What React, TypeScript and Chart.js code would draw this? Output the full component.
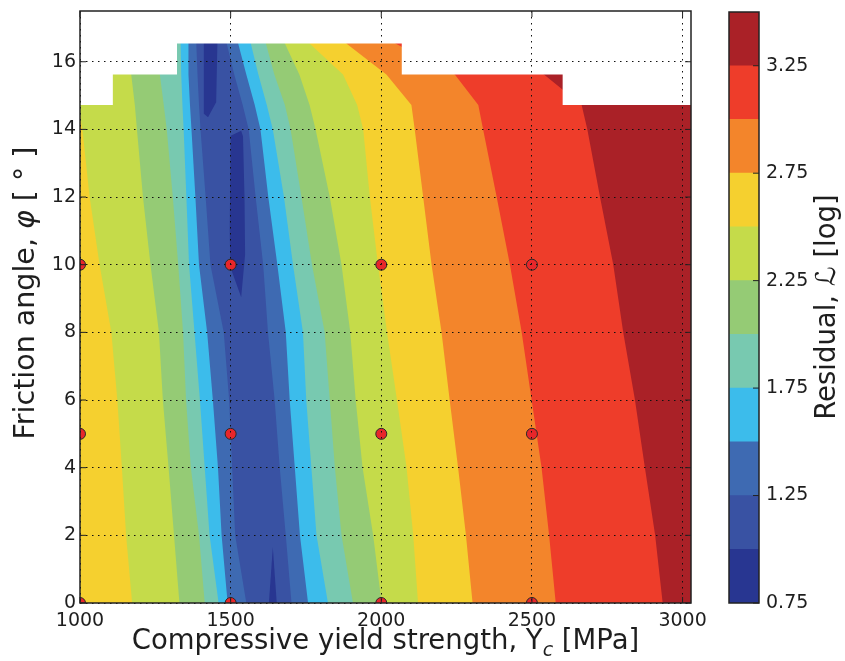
import React, { useEffect, useRef } from 'react';
import { Chart, registerables } from 'chart.js';

Chart.register(...registerables);

// ---- axes ----
const xTicks = [1000, 1500, 2000, 2500, 3000];
const yTicks = [0, 2, 4, 6, 8, 10, 12, 14, 16];
const xMin = 1000;
const xMax = 3028;
const yMin = 0;
const yMax = 17.5;

// ---- colour levels of the residual (colour bar) ----
const levels = [0.75, 1.0, 1.25, 1.5, 1.75, 2.0, 2.25, 2.5, 2.75, 3.0, 3.25, 3.5];
const levelColors = [
  '#283691', '#3952a3', '#3e6ab2', '#3cbceb', '#78c9b0', '#95cb75',
  '#c5db4a', '#f5d02f', '#f3852b', '#ee3d2a', '#aa2127',
];
const cbTicks = [0.75, 1.25, 1.75, 2.25, 2.75, 3.25];

// ---- contour boundaries ----
// friction angle rows at which each boundary is sampled
const rowY = [0, 2, 4, 6, 8, 10, 12, 14, 14.72, 15.62, 16.54, 17.5];

// left branch of each level (residual >= level for smaller Yc)
const left125 = [1552, 1515, 1505, 1495, 1477, 1433, 1417, 1400, 1395, 1390, 1386, 1386];
const left150 = [1490, 1470, 1458, 1441, 1422, 1395, 1383, 1370, 1365, 1360, 1360, 1360];
const left175 = [1460, 1430, 1414, 1398, 1380, 1362, 1353, 1344, 1340, 1336, 1334, 1334];
const left200 = [1414, 1395, 1368, 1352, 1342, 1326, 1308, 1288, 1278, 1265, 1260, 1260];
const left225 = [1330, 1312, 1294, 1275, 1262, 1234, 1209, 1189, 1182, 1170, 1160, 1160];
const left250 = [1173, 1153, 1139, 1124, 1104, 1065, 1032, 1008, 995, 990, 990, 990];

// right branch of each level (residual >= level for larger Yc)
const right125 = [1702, 1683, 1663, 1646, 1624, 1608, 1583, 1560, 1540, 1512, 1487, 1487];
const right150 = [1757, 1730, 1713, 1696, 1683, 1655, 1625, 1599, 1580, 1552, 1525, 1525];
const right175 = [1823, 1785, 1768, 1751, 1740, 1707, 1677, 1640, 1620, 1592, 1567, 1567];
const right200 = [1906, 1868, 1846, 1829, 1812, 1770, 1735, 1699, 1680, 1645, 1617, 1617];
const right225 = [2001, 1973, 1938, 1915, 1897, 1868, 1829, 1782, 1762, 1728, 1680, 1680];
const right250 = [2122, 2106, 2084, 2052, 2019, 1989, 1962, 1940, 1920, 1873, 1762, 1762];
const right275 = [2303, 2281, 2255, 2227, 2200, 2167, 2139, 2111, 2100, 2017, 1884, 1884];
const right300 = [2579, 2557, 2532, 2499, 2466, 2427, 2383, 2338, 2322, 2244, 2047, 2047];
const right325 = [2934, 2909, 2875, 2842, 2803, 2770, 2726, 2684, 2665, 2540, 2400, 2400];

// small islands of the lowest band (0.75 - 1.0)
const islandTopX = [1411, 1411, 1425, 1452, 1456, 1456];
const islandTopY = [17.5, 14.46, 14.36, 14.8, 16.54, 17.5];
const islandMidX = [1535, 1500, 1499, 1497, 1499, 1535, 1548, 1546, 1541];
const islandMidY = [13.96, 13.81, 12.9, 11, 9.93, 9.04, 10.3, 12, 13.8];
const islandLowX = [1623, 1640, 1657];
const islandLowY = [-0.5, 1.65, -0.5];

// region without data (top of the map)
const gapX = [990, 990, 1109, 1109, 1322, 1322, 2068, 2068, 2602, 2602, 3040, 3040];
const gapY = [17.6, 14.72, 14.72, 15.62, 15.62, 16.54, 16.54, 15.62, 15.62, 14.72, 14.72, 17.6];

// simulation samples
const sampleX = [1000, 1000, 1000, 1500, 1500, 1500, 2000, 2000, 2000, 2500, 2500, 2500];
const sampleY = [0, 5, 10, 0, 5, 10, 0, 5, 10, 0, 5, 10];

const FONT = '"DejaVu Sans", "Liberation Sans", sans-serif';
const TEXT = '#1e1e1e';

type Run = { t: string; italic?: boolean; sub?: boolean; sup?: boolean };

const xTitle: Run[] = [
  { t: 'Compressive yield strength, Y' },
  { t: 'c', italic: true, sub: true },
  { t: ' [MPa]' },
];
const yTitle: Run[] = [
  { t: 'Friction angle, ' },
  { t: 'φ', italic: true },
  { t: ' [ ' },
  { t: '°' },
  { t: ' ]' },
];
const cbTitle: Run[] = [
  { t: 'Residual, ' },
  { t: 'ℒ', italic: true },
  { t: ' [log]' },
];

function runFont(r: Run, size: number) {
  const s = r.sub || r.sup ? Math.round(size * 0.7) : size;
  return `${r.italic ? 'italic ' : ''}${s}px ${FONT}`;
}

function drawRuns(ctx: CanvasRenderingContext2D, runs: Run[], cx: number, cy: number, size: number, rotate: boolean) {
  ctx.save();
  ctx.translate(cx, cy);
  if (rotate) ctx.rotate(-Math.PI / 2);
  ctx.textBaseline = 'middle';
  ctx.textAlign = 'left';
  ctx.fillStyle = TEXT;
  const widths = runs.map((r) => {
    ctx.font = runFont(r, size);
    return ctx.measureText(r.t).width;
  });
  const total = widths.reduce((a, b) => a + b, 0);
  let x = -total / 2;
  runs.forEach((r, i) => {
    ctx.font = runFont(r, size);
    const dy = r.sub ? size * 0.32 : r.sup ? -size * 0.3 : 0;
    ctx.fillText(r.t, x, dy);
    x += widths[i];
  });
  ctx.restore();
}

function pts(xs: number[], ys: number[]) {
  return xs.map((x, i) => ({ x, y: ys[i] }));
}

function leftRegion(xs: number[]) {
  return [
    { x: 990, y: -1 },
    { x: xs[0], y: -1 },
    ...pts(xs, rowY),
    { x: 990, y: rowY[rowY.length - 1] },
  ];
}

function rightRegion(xs: number[]) {
  return [
    { x: 3040, y: -1 },
    { x: xs[0], y: -1 },
    ...pts(xs, rowY),
    { x: 3040, y: rowY[rowY.length - 1] },
  ];
}

function poly(data: { x: number; y: number }[], color: string) {
  return {
    type: 'scatter' as const,
    data,
    showLine: true,
    fill: 'shape',
    backgroundColor: color,
    borderColor: 'rgba(0,0,0,0)',
    borderWidth: 0,
    pointRadius: 0,
    pointHoverRadius: 0,
    tension: 0,
  };
}

const framePlugin = {
  id: 'frame',
  afterDraw(chart: any, _args: any, opts: any) {
    const { ctx, chartArea: a } = chart;
    ctx.save();
    ctx.strokeStyle = '#222';
    ctx.lineWidth = 1.5;
    ctx.setLineDash([]);
    ctx.strokeRect(a.left, a.top, a.right - a.left, a.bottom - a.top);
    ctx.lineWidth = 1;
    const len = 6;
    if (opts && opts.inTicks) {
      const xs = chart.scales.x;
      const ys = chart.scales.y;
      if (xs && xs.options.display !== false) {
        xs.ticks.forEach((t: any) => {
          const px = xs.getPixelForValue(t.value);
          ctx.beginPath();
          ctx.moveTo(px, a.bottom); ctx.lineTo(px, a.bottom - len);
          ctx.moveTo(px, a.top); ctx.lineTo(px, a.top + len);
          ctx.stroke();
        });
      }
      ys.ticks.forEach((t: any) => {
        const py = ys.getPixelForValue(t.value);
        ctx.beginPath();
        if (opts.left !== false) { ctx.moveTo(a.left, py); ctx.lineTo(a.left + len, py); }
        ctx.moveTo(a.right, py); ctx.lineTo(a.right - len, py);
        ctx.stroke();
      });
    }
    if (opts && opts.titles) {
      opts.titles.forEach((tt: any) => drawRuns(ctx, tt.runs, tt.x, tt.y, tt.size, tt.rotate));
    }
    ctx.restore();
  },
};

export default function App() {
  const mainRef = useRef<HTMLCanvasElement>(null);
  const cbRef = useRef<HTMLCanvasElement>(null);

  useEffect(() => {
    const layers: any[] = [];
    layers.push(poly(pts([990, 3040, 3040, 990], [-1, -1, 17.6, 17.6]), levelColors[1]));
    layers.push(poly(pts(islandTopX, islandTopY), levelColors[0]));
    layers.push(poly(pts(islandMidX, islandMidY), levelColors[0]));
    layers.push(poly(pts(islandLowX, islandLowY), levelColors[0]));
    const lefts = [left125, left150, left175, left200, left225, left250];
    const rights = [right125, right150, right175, right200, right225, right250, right275, right300, right325];
    rights.forEach((r, i) => {
      const color = levelColors[i + 2];
      if (lefts[i]) layers.push(poly(leftRegion(lefts[i]), color));
      layers.push(poly(rightRegion(r), color));
    });
    layers.push(poly(pts(gapX, gapY), '#ffffff'));
    layers.push({
      type: 'scatter',
      data: pts(sampleX, sampleY),
      backgroundColor: '#e8262a',
      borderColor: '#2a2a2a',
      borderWidth: 1,
      pointRadius: 5.5,
      pointHoverRadius: 5.5,
      showLine: false,
      clip: 0,
    });
    const n = layers.length;
    layers.forEach((d, i) => { d.order = n - i; });

    const main = new Chart(mainRef.current!, {
      type: 'scatter',
      data: { datasets: layers },
      plugins: [framePlugin],
      options: {
        animation: false,
        responsive: false,
        events: [],
        layout: { padding: { left: 0, right: 154, top: 11, bottom: 0 } },
        plugins: {
          legend: { display: false },
          tooltip: { enabled: false },
          frame: {
            inTicks: true,
            titles: [
              { runs: xTitle, x: 385.5, y: 642, size: 27.5, rotate: false },
              { runs: yTitle, x: 27, y: 293, size: 28.5, rotate: true },
            ],
          },
        } as any,
        scales: {
          x: {
            type: 'linear',
            min: xMin,
            max: xMax,
            afterBuildTicks: (s: any) => { s.ticks = xTicks.map((v) => ({ value: v })); },
            afterFit: (s: any) => { s.height = 58; s.paddingLeft = 0; s.paddingRight = 0; },
            ticks: { font: { family: FONT, size: 19 }, color: TEXT, padding: 7, maxRotation: 0, callback: (v: any) => String(v) },
            grid: { color: '#111', lineWidth: 1, drawTicks: false, z: 1 },
            border: { display: false, dash: [1.5, 4.5] },
          },
          y: {
            type: 'linear',
            min: yMin,
            max: yMax,
            afterBuildTicks: (s: any) => { s.ticks = yTicks.map((v) => ({ value: v })); },
            afterFit: (s: any) => { s.width = 80; s.paddingTop = 0; s.paddingBottom = 0; },
            ticks: { font: { family: FONT, size: 19 }, color: TEXT, padding: 4, callback: (v: any) => String(v) },
            grid: { color: '#111', lineWidth: 1, drawTicks: false, z: 1 },
            border: { display: false, dash: [1.5, 4.5] },
          },
        },
      } as any,
    });

    const cbSets = levelColors.map((c, i) => ({
      data: [[levels[i], levels[i + 1]]],
      backgroundColor: c,
      borderWidth: 0,
      barPercentage: 1,
      categoryPercentage: 1,
      grouped: false,
    }));

    const cb = new Chart(cbRef.current!, {
      type: 'bar',
      data: { labels: [''], datasets: cbSets as any },
      plugins: [framePlugin],
      options: {
        animation: false,
        responsive: false,
        events: [],
        layout: { padding: { left: 729, right: 0, top: 12, bottom: 58 } },
        plugins: {
          legend: { display: false },
          tooltip: { enabled: false },
          frame: {
            inTicks: true,
            left: false,
            titles: [{ runs: cbTitle, x: 828, y: 307, size: 27.5, rotate: true }],
          },
        } as any,
        scales: {
          x: { display: false },
          y: {
            position: 'right',
            min: levels[0],
            max: levels[levels.length - 1],
            afterBuildTicks: (s: any) => { s.ticks = cbTicks.map((v) => ({ value: v })); },
            afterFit: (s: any) => { s.width = 86; s.paddingTop = 0; s.paddingBottom = 0; },
            ticks: { font: { family: FONT, size: 19 }, color: TEXT, padding: 7, callback: (v: any) => Number(v).toFixed(2) },
            grid: { display: false, drawTicks: false },
            border: { display: false },
          },
        },
      } as any,
    });

    return () => {
      main.destroy();
      cb.destroy();
    };
  }, []);

  return (
    <div style={{ position: 'absolute', left: 0, top: 0, width: 845, height: 661, background: '#fff' }}>
      <canvas ref={mainRef} width={845} height={661} style={{ position: 'absolute', left: 0, top: 0 }} />
      <canvas ref={cbRef} width={845} height={661} style={{ position: 'absolute', left: 0, top: 0 }} />
    </div>
  );
}
